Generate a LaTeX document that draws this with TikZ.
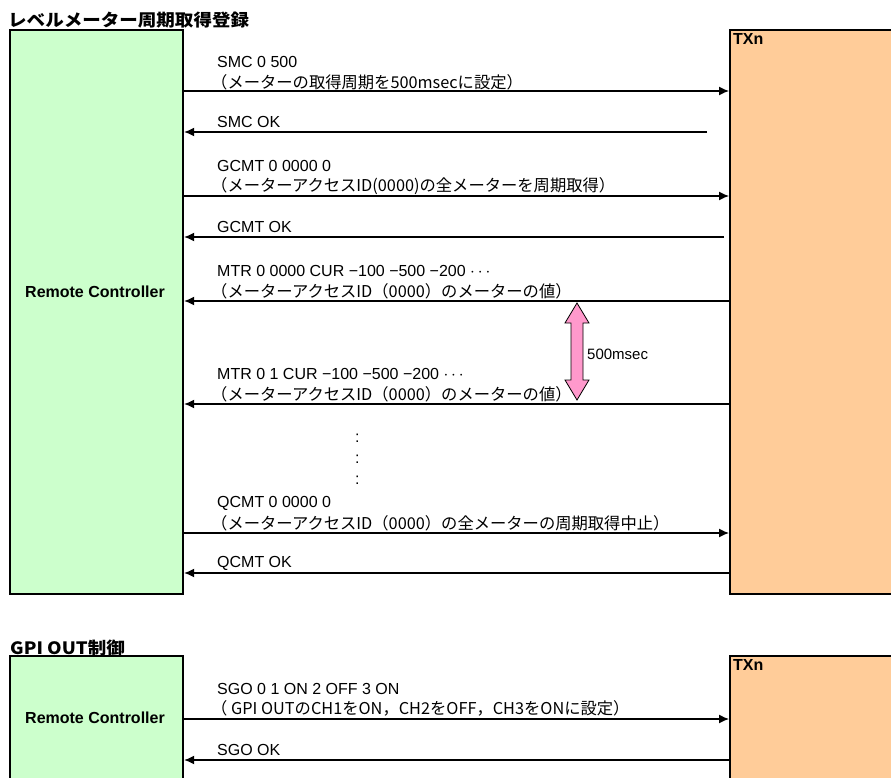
\documentclass[tikz,border=0pt]{standalone}
\usepackage{fontspec}
\setmainfont{Liberation Sans}
\newfontfamily\jp{Noto Sans CJK JP}
\usetikzlibrary{arrows.meta}
\definecolor{rcgreen}{HTML}{CCFFCC}
\definecolor{txorange}{HTML}{FFCC99}
\definecolor{msecpink}{HTML}{FF99CC}

\begin{document}
\begin{tikzpicture}[x=1pt, y=-1pt,
  box/.style={draw, line width=2.2pt, inner sep=0pt, anchor=north west},
  msg/.style={line width=1.3pt, -{Latex[length=10pt,width=9pt]}},
  txt/.style={anchor=west, inner sep=0pt, font=\fontsize{16}{17}\selectfont},
  jtxt/.style={anchor=west, inner sep=0pt, font=\jp\fontsize{16.3}{17}\selectfont},
  ttl/.style={anchor=west, inner sep=0pt, font=\jp\bfseries\fontsize{17}{18}\selectfont},
  who/.style={inner sep=0pt, font=\bfseries\fontsize{16}{17}\selectfont}]
\useasboundingbox (0,0) rectangle (891,778);

\node[ttl] (title1) at (8,20) {\scalebox{1.09}[1]{レベルメーター周期取得登録}};
\node[box, fill=rcgreen, minimum width=173pt, minimum height=564pt] (rc) at (9,29) {};
\node[box, fill=txorange, minimum width=180pt, minimum height=564pt] (tx) at (729,29) {};
\node[who] (rclbl) at (95,292) {Remote Controller};
\node[who, anchor=north west] (txlbl) at (733,33) {TXn};

\node[txt] (smc) at (217,62) {SMC 0 500};
\node[jtxt] (smcj) at (211,82) {（メーターの取得周期を500msecに設定）};
\draw[msg] (rc.east |- 0,91) -- (tx.west |- 0,91);

\coordinate (smcok) at (707,132);
\node[txt] (smcoklbl) at (217,122) {SMC OK};
\draw[msg] (smcok) -- (rc.east |- smcok);

\node[txt] (gcmt) at (217,166) {GCMT 0 0000 0};
\node[jtxt] (gcmtj) at (211,186) {（メーターアクセスID(0000)の全メーターを周期取得）};
\draw[msg] (rc.east |- 0,196) -- (tx.west |- 0,196);

\coordinate (gcmtok) at (724,237);
\node[txt] (gcmtoklbl) at (217,227) {GCMT OK};
\draw[msg] (gcmtok) -- (rc.east |- gcmtok);

\node[txt] (mtr1) at (217,271) {MTR 0 0000 CUR −100 −500 −200 $\cdots$};
\node[jtxt] (mtr1j) at (211,291) {（メーターアクセスID（0000）のメーターの値）};
\draw[msg] (tx.west |- 0,301) -- (rc.east |- 0,301);

\filldraw[fill=msecpink, line width=0.8pt] (577,303) -- (589,323) -- (583,323) -- (583,380) -- (589,380)
  -- (577,400) -- (565,380) -- (571,380) -- (571,323) -- (565,323) -- cycle;
\node[txt, font=\fontsize{15}{16}\selectfont] (per) at (587,354) {500msec};

\node[txt] (mtr2) at (217,374) {MTR 0 1 CUR −100 −500 −200 $\cdots$};
\node[jtxt] (mtr2j) at (211,394) {（メーターアクセスID（0000）のメーターの値）};
\draw[msg] (tx.west |- 0,404) -- (rc.east |- 0,404);

\foreach \y [count=\i] in {438,459,480}
  \node[txt] (dot\i) at (355,\y) {:};

\node[txt] (qcmt) at (217,503) {QCMT 0 0000 0};
\node[jtxt] (qcmtj) at (211,523) {（メーターアクセスID（0000）の全メーターの周期取得中止）};
\draw[msg] (rc.east |- 0,533) -- (tx.west |- 0,533);

\node[txt] (qcmtoklbl) at (217,563) {QCMT OK};
\draw[msg] (tx.west |- 0,573) -- (rc.east |- 0,573);

\node[ttl] (title2) at (10,648) {\scalebox{1.09}[1]{GPI OUT制御}};
\node[box, fill=rcgreen, minimum width=173pt, minimum height=140pt] (rc2) at (9,655) {};
\node[box, fill=txorange, minimum width=180pt, minimum height=140pt] (tx2) at (729,655) {};
\node[who] (rc2lbl) at (95,718) {Remote Controller};
\node[who, anchor=north west] (tx2lbl) at (733,659) {TXn};

\node[txt] (sgo) at (217,689) {SGO 0 1 ON 2 OFF 3 ON};
\node[jtxt] (sgoj) at (211,708) {（ GPI OUTのCH1をON，CH2をOFF，CH3をONに設定）};
\draw[msg] (rc2.east |- 0,719) -- (tx2.west |- 0,719);

\node[txt] (sgooklbl) at (217,750) {SGO OK};
\draw[msg] (tx2.west |- 0,760) -- (rc2.east |- 0,760);
\end{tikzpicture}
\end{document}
